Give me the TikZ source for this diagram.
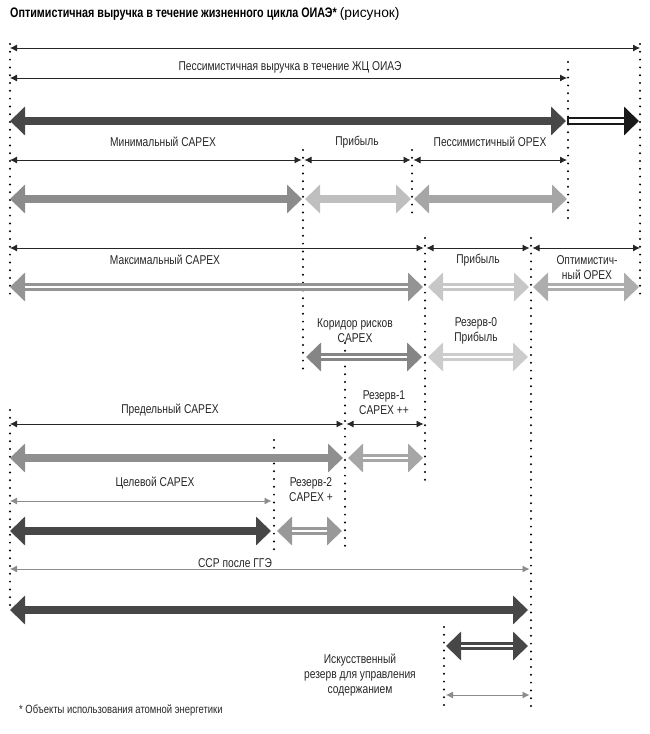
\documentclass[tikz,border=0pt]{standalone}
\usepackage{fontspec}
\setmainfont{Liberation Sans}[FakeStretch=0.8]
\newfontfamily\titlebold{Liberation Sans Bold}[FakeStretch=0.78]
\newfontfamily\titlereg{Liberation Sans}[FakeStretch=1.0]
\usepackage{tikz}
\usetikzlibrary{arrows.meta}

\tikzset{
	dots/.style={line width=2.2pt, dash pattern=on 0pt off 7.8pt, line cap=round},
	dim/.style={line width=0.8pt, {Latex[length=7pt,width=7pt]}-{Latex[length=7pt,width=7pt]}},
	span/.style={line width=8.5pt, {Triangle[length=15pt,width=28pt]}-{Triangle[length=15pt,width=28pt]}},
	stripe/.style={draw=white, line width=2pt},
	lbl/.style={font=\fontsize{12.8}{15}\selectfont, align=center, text=black!85}
}

\begin{document}
\begin{tikzpicture}[x=1pt,y=-1pt]
\useasboundingbox (0,0) rectangle (650,734);

\node [anchor=west, inner sep=0pt] (title) at (10,14) {\fontsize{13.8}{16}\selectfont{\titlebold Оптимистичная выручка в течение жизненного цикла ОИАЭ*} {\titlereg (рисунок)}};

% dotted guides
\draw [dots] (10,44) -- (10,300);
\draw [dots] (10,410) -- (10,612);
\draw [dots] (640,44) -- (640,300);
\draw [dots] (568,62) -- (568,218);
\draw [dots] (303,150) -- (303,372);
\draw [dots] (412,150) -- (412,220);
\draw [dots] (425,238) -- (425,484);
\draw [dots] (531,238) -- (531,707);
\draw [dots] (345,343) -- (345,550);
\draw [dots] (274,440) -- (274,550);
\draw [dots] (444,627) -- (444,707);

% revenue
\draw [dim, black!85] (10,48) -- (640,48);
\node [lbl] (pess) at (290,67) {Пессимистичная выручка в течение ЖЦ ОИАЭ};
\draw [dim, black!85] (10,78) -- (567,78);
\draw [span, black!72] (10,121) -- (566,121);
\draw [line width=8.5pt, black!90, -{Triangle[length=15pt,width=28pt]}] (567,121) -- (639,121);
\draw [white, line width=4.5pt] (568.8,121) -- (624,121);

% minimal capex
\node [lbl] (mincapex) at (163,142) {Минимальный CAPEX};
\node [lbl] (prib1) at (357,142) {Прибыль};
\node [lbl] (pessopex) at (490,142) {Пессимистичный OPEX};
\draw [dim, black!85] (10,160) -- (301.5,160);
\draw [dim, black!85] (304.5,160) -- (410.5,160);
\draw [dim, black!85] (413.5,160) -- (567,160);
\draw [span, black!45] (10,199) -- (302,199);
\draw [span, black!25] (305,199) -- (411,199);
\draw [span, black!35] (414,199) -- (567,199);

% maximal capex
\draw [dim, black!85] (10,248) -- (423.5,248);
\draw [dim, black!85] (426.5,248) -- (529.5,248);
\draw [dim, black!85] (532.5,248) -- (640,248);
\node [lbl] (maxcapex) at (165,260) {Максимальный CAPEX};
\node [lbl] (prib2) at (478,260) {Прибыль};
\node [lbl] (optopex) at (587,268) {Оптимистич-\\ный OPEX};
\draw [span, black!42] (10,287) -- (423,287);
\draw [stripe] (25,287) -- (408,287);
\draw [span, black!22] (428,287) -- (529,287);
\draw [stripe] (443,287) -- (514,287);
\draw [span, black!32] (533,287) -- (639,287);
\draw [stripe] (548,287) -- (624,287);

% risk corridor
\node [lbl] (koridor) at (355,331) {Коридор рисков\\CAPEX};
\node [lbl] (rez0) at (476,331) {Резерв-0\\Прибыль};
\draw [span, black!48] (306,357) -- (422,357);
\draw [stripe] (321,357) -- (407,357);
\draw [span, black!20] (428,357) -- (528,357);
\draw [stripe] (443,357) -- (513,357);

% limit capex
\node [lbl] (rez1) at (384,403) {Резерв-1\\CAPEX ++};
\node [lbl] (predel) at (170,410) {Предельный CAPEX};
\draw [dim, black!85] (10,424) -- (343.5,424);
\draw [dim, black!85] (346.5,424) -- (423.5,424);
\draw [span, black!44] (10,458) -- (343,458);
\draw [span, black!35] (348,458) -- (423,458);
\draw [stripe] (363,458) -- (408,458);

% target capex
\node [lbl] (target) at (155,483) {Целевой CAPEX};
\node [lbl] (rez2) at (311,490) {Резерв-2\\CAPEX +};
\draw [dim, black!85, draw=black!45] (10,501) -- (271.5,501);
\draw [span, black!72] (10,531) -- (271,531);
\draw [span, black!40] (277,531) -- (342,531);
\draw [stripe] (292,531) -- (327,531);

% ssr
\node [lbl] (ssr) at (235,563) {ССР после ГГЭ};
\draw [dim, black!85, draw=black!45] (10,569) -- (529.5,569);
\draw [span, black!72] (10,610) -- (528,610);
\draw [span, black!72] (446,646) -- (528,646);
\draw [stripe] (461,646) -- (513,646);
\node [lbl] (iskus) at (360,675) {Искусственный\\резерв для управления\\содержанием};
\draw [dim, black!85, draw=black!45] (446,695) -- (529.5,695);

\node [anchor=west, inner sep=0pt, font=\fontsize{11.8}{13}\selectfont, text=black!85] (foot) at (19,710) {* Объекты использования атомной энергетики};
\end{tikzpicture}
\end{document}
